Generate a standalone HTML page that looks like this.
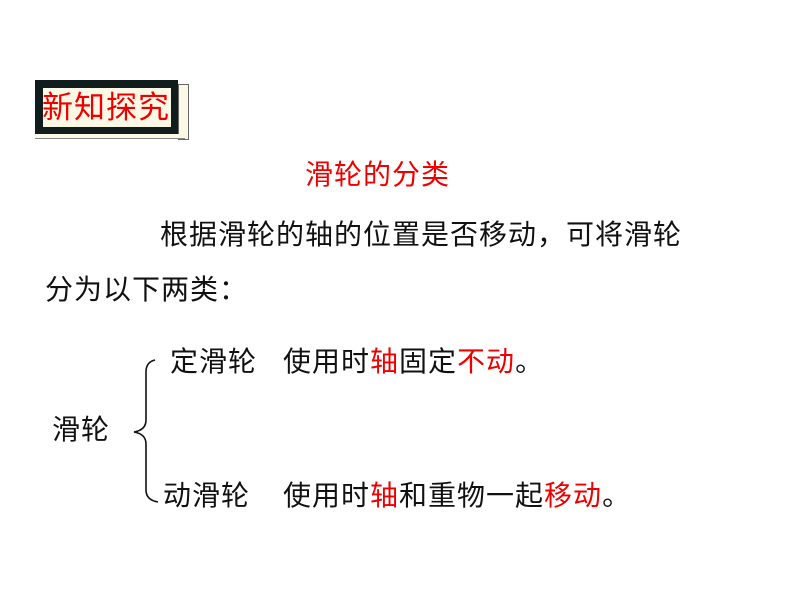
<!DOCTYPE html>
<html><head><meta charset="utf-8"><style>
body{margin:0;width:800px;height:600px;background:#fff;position:relative;overflow:hidden;font-family:"Liberation Sans","WenQuanYi Zen Hei",sans-serif;}
.t{position:absolute;font-size:28px;line-height:32px;white-space:nowrap;color:#111;letter-spacing:1px}
.r{color:#e00}
</style></head><body>
<div style="position:absolute;left:178px;top:84px;width:9px;height:54px;background:#fbf8e6;border:1px solid #666"></div>
<div style="position:absolute;left:35px;top:80px;width:143px;height:54px;background:#111c1c"></div>
<div style="position:absolute;left:35px;top:134px;width:150px;height:4px;background:#fbf8e6;border-bottom:1px solid #888"></div>
<div style="position:absolute;left:43px;top:88px;width:128px;height:39px;background:#fbf8e6"></div>
<div class="t r" style="left:42px;top:90px;font-size:31px;line-height:36px;letter-spacing:1px">新知探究</div>
<div class="t r" style="left:305px;top:159px">滑轮的分类</div>
<div class="t" style="left:160px;top:219px">根据滑轮的轴的位置是否移动，可将滑轮</div>
<div class="t" style="left:45px;top:274px">分为以下两类：</div>
<div class="t" style="left:170px;top:346px">定滑轮</div>
<div class="t" style="left:283px;top:346px">使用时<span class="r">轴</span>固定<span class="r">不动</span>。</div>
<div class="t" style="left:52px;top:414px">滑轮</div>
<div class="t" style="left:163px;top:480px">动滑轮</div>
<div class="t" style="left:283px;top:480px">使用时<span class="r">轴</span>和重物一起<span class="r">移动</span>。</div>
<svg style="position:absolute;left:0;top:0" width="800" height="600">
<path d="M155 360 Q146 362 146 372 L146 420 Q146 430 134 432 Q146 434 146 444 L146 490 Q146 500 158 502" fill="none" stroke="#111" stroke-width="1.6"/>
</svg>
</body></html>
